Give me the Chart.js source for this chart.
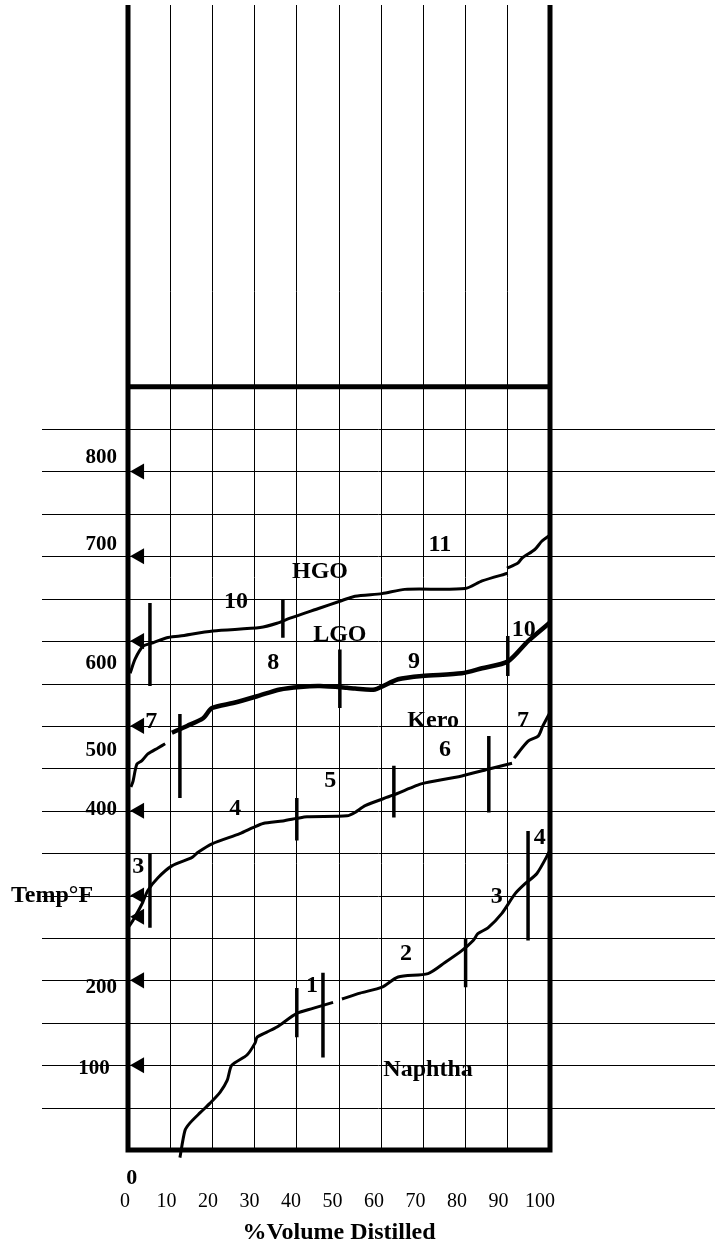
<!DOCTYPE html>
<html lang="en">
<head>
    <meta charset="UTF-8">
    <title>Distillation curves</title>
    <script src="https://cdn.jsdelivr.net/npm/chart.js"></script>
    <style>
        body {
            margin: 0;
            background: #fff;
        }

        #wrap {
            width: 715px;
            height: 1249px;
        }
    </style>
</head>
<body>
    <div id="wrap"><canvas id="chart" width="715" height="1249"></canvas></div>

    <script>
        // Curves: % volume distilled vs temperature (°F)
        const naphthaVolA  = [12.3, 13.5, 14.7, 17.1, 19.4, 21.8, 23.5, 24.6, 28.2, 30.1, 30.6, 32.9, 35.3, 40.0, 43.8, 48.6];
        const naphthaTempA = [-9, 23, 32, 44, 55, 68, 82, 100, 112, 126, 133, 139, 145, 161, 167, 174];
        const naphthaVolB  = [50.7, 55.0, 60.2, 64.0, 71.1, 75.1, 79.1, 81.8, 82.9, 85.3, 88.6, 91.7, 94.1, 96.9, 100];
        const naphthaTempB = [178, 185, 192, 204, 208, 221, 235, 247, 255, 262, 279, 302, 314, 326, 353];

        const keroVolA  = [0, 1.2, 3.3, 4.7, 7.1, 10.4, 15.2, 16.6, 19.9, 26.5, 29.6, 32.0, 36.7, 40.0, 42.4, 51.9, 53.8, 56.2, 62.6, 68.0, 69.7, 79.1, 85.3, 91.0];
        const keroTempA = [262, 271, 290, 306, 321, 335, 345, 351, 361, 373, 380, 385, 388, 391, 393, 394, 398, 406, 418, 429, 432, 441, 449, 456];
        const keroVolB  = [91.5, 94.8, 97.2, 98.3, 100];
        const keroTempB = [462, 482, 488, 500, 516];

        const lgoVolA  = [0.7, 1.2, 2.1, 3.3, 4.7, 7.1, 8.8];
        const lgoTempA = [428, 435, 455, 459, 467, 474, 479];
        const lgoVolB  = [10.4, 14.0, 17.8, 19.9, 24.9, 30.6, 36.0, 40.8, 45.5, 51.9, 53.8, 58.5, 64.0, 69.7, 79.1, 83.9, 90.0, 94.8, 100];
        const lgoTempB = [492, 500, 509, 521, 527, 535, 543, 546, 547, 545, 544, 543, 555, 559, 562, 568, 576, 600, 622];

        const hgoVolA  = [0.5, 1.7, 3.6, 5.9, 9.2, 12.3, 20.1, 31.3, 35.3, 38.4, 45.5, 50.2, 53.8, 60.2, 65.6, 79.9, 83.9, 90.0];
        const hgoTempA = [562, 579, 594, 598, 604, 606, 612, 616, 621, 627, 639, 647, 653, 656, 661, 662, 671, 680];
        const hgoVolB  = [89.8, 92.4, 93.4, 96.4, 98.1, 100];
        const hgoTempB = [686, 692, 698, 708, 718, 725];

        // Cut point bars: volume, low and high temperature
        const cutVol  = [5.2, 36.7, 12.3, 50.2, 90.0, 5.2, 40.0, 63.0, 85.5, 40.0, 46.2, 80.0, 94.8];
        const cutLow  = [547, 604, 415, 521, 559, 262, 365, 392, 398, 133, 109, 192, 247];
        const cutHigh = [645, 649, 514, 590, 606, 349, 415, 453, 488, 191, 209, 250, 376];

        // Temperature markers on the left edge
        const arrowTemps = [800, 700, 600, 500, 400, 300, 275, 200, 100];

        // Horizontal temperature lines, every 50 °F
        const tempGrid = [50, 100, 150, 200, 250, 300, 350, 400, 450, 500, 550, 600, 650, 700, 750, 800, 850];
        const boxTemp = 900;

        // Volume tick labels (printed slightly narrower than the grid)
        const volTicks = [0, 10, 20, 30, 40, 50, 60, 70, 80, 90, 100];

        // Temperature labels (text, volume and temperature of the label centre)
        const tempLabels    = ['800', '700', '600', '500', '400', '200', '100'];
        const tempLabelVol  = [-2.6, -2.6, -2.6, -2.6, -2.6, -2.6, -4.3];
        const tempLabelTemp = [816, 714, 574, 471, 401, 192, 96];

        // Section names and cut numbers written inside the chart
        const sectionNames = ['HGO', 'LGO', 'Kero', 'Naphtha'];
        const sectionVol   = [45.5, 50.2, 72.3, 71.1];
        const sectionTemp  = [682, 608, 506, 95];

        const cutNumbers = ['11', '10', '10', '8', '9', '7', '7', '6', '5', '4', '3', '3', '4', '2', '1'];
        const cutNumVol  = [73.9, 25.6, 93.8, 34.4, 67.8, 5.5, 93.6, 75.1, 47.9, 25.4, 2.4, 87.4, 97.6, 65.9, 43.6];
        const cutNumTemp = [714, 646, 613, 575, 576, 505, 506, 472, 435, 402, 334, 299, 368, 231, 194];

        const SERIF = '"Liberation Serif", "Times New Roman", serif';

        function pts(vols, temps) {
            return vols.map((v, i) => ({ x: v, y: temps[i] }));
        }

        function curve(vols, temps, width) {
            return {
                type: 'line',
                data: pts(vols, temps),
                borderColor: '#000',
                borderWidth: width,
                pointRadius: 0,
                tension: 0.25,
                fill: false,
                clip: false,
                borderCapStyle: 'butt'
            };
        }

        // bars built as pairs of points with a gap in between
        const cutData = [];
        cutVol.forEach((v, i) => {
            cutData.push({ x: v, y: cutLow[i] }, { x: v, y: cutHigh[i] }, { x: v, y: null });
        });

        const sketch = {
            id: 'sketch',
            beforeDatasetsDraw(chart) {
                const { ctx, chartArea: a, scales: { x, y } } = chart;
                ctx.save();

                // temperature lines run past the frame on both sides
                ctx.strokeStyle = '#000';
                ctx.lineWidth = 1;
                tempGrid.forEach(t => {
                    const py = Math.round(y.getPixelForValue(t)) + 0.5;
                    ctx.beginPath();
                    ctx.moveTo(42, py);
                    ctx.lineTo(chart.width, py);
                    ctx.stroke();
                });

                // heavy frame
                const x0 = x.getPixelForValue(0), x1 = x.getPixelForValue(100);
                const y0 = y.getPixelForValue(0), yb = y.getPixelForValue(boxTemp);
                ctx.lineWidth = 5;
                ctx.lineJoin = 'miter';
                ctx.beginPath();
                ctx.moveTo(x0, a.top);
                ctx.lineTo(x0, y0);
                ctx.lineTo(x1, y0);
                ctx.lineTo(x1, a.top);
                ctx.moveTo(x0, yb);
                ctx.lineTo(x1, yb);
                ctx.stroke();

                // labels
                ctx.fillStyle = '#000';
                ctx.textBaseline = 'middle';
                const text = (s, v, t, size, align) => {
                    ctx.font = 'bold ' + size + 'px ' + SERIF;
                    ctx.textAlign = align;
                    ctx.fillText(s, x.getPixelForValue(v), y.getPixelForValue(t));
                };
                tempLabels.forEach((s, i) => text(s, tempLabelVol[i], tempLabelTemp[i], 21, 'right'));
                text('0', 0.9, -33, 22, 'center');
                text('Temp°F', -18, 300, 24, 'center');
                sectionNames.forEach((s, i) => text(s, sectionVol[i], sectionTemp[i], 24, 'center'));
                cutNumbers.forEach((s, i) => text(s, cutNumVol[i], cutNumTemp[i], 24, 'center'));

                ctx.restore();
            }
        };

        new Chart(document.getElementById('chart'), {
            data: {
                datasets: [
                    curve(naphthaVolA, naphthaTempA, 3),
                    curve(naphthaVolB, naphthaTempB, 3),
                    curve(keroVolA, keroTempA, 3),
                    curve(keroVolB, keroTempB, 3),
                    curve(lgoVolA, lgoTempA, 3),
                    curve(lgoVolB, lgoTempB, 4.5),
                    curve(hgoVolA, hgoTempA, 3),
                    curve(hgoVolB, hgoTempB, 3),
                    {
                        type: 'line',
                        data: cutData,
                        borderColor: '#000',
                        borderWidth: 3.5,
                        pointRadius: 0,
                        spanGaps: false,
                        clip: false
                    },
                    {
                        type: 'scatter',
                        data: arrowTemps.map(t => ({ x: 2.7, y: t })),
                        pointStyle: 'triangle',
                        pointRadius: 9.3,
                        pointRotation: -90,
                        backgroundColor: '#000',
                        borderWidth: 0
                    }
                ]
            },
            options: {
                responsive: false,
                animation: false,
                layout: {
                    autoPadding: false,
                    padding: { left: 128, right: 165, top: 5, bottom: 0 }
                },
                plugins: {
                    legend: { display: false },
                    tooltip: { enabled: false }
                },
                scales: {
                    x: {
                        type: 'linear',
                        min: 0,
                        max: 100,
                        grid: { color: '#000', lineWidth: 1, drawTicks: false },
                        border: { display: false },
                        ticks: { stepSize: 10, display: false },
                        afterFit: s => { s.height = 0; }
                    },
                    // label axis: the printed numbers sit a little inside the grid
                    xLabels: {
                        type: 'linear',
                        position: 'bottom',
                        min: 0.72,
                        max: 102.4,
                        grid: { display: false, drawTicks: false },
                        border: { display: false },
                        afterBuildTicks: s => { s.ticks = volTicks.map(v => ({ value: v })); },
                        ticks: {
                            autoSkip: false,
                            maxRotation: 0,
                            padding: 40,
                            color: '#000',
                            font: { family: SERIF, size: 20 }
                        },
                        title: {
                            display: true,
                            text: '%Volume Distilled',
                            color: '#000',
                            font: { family: SERIF, size: 24, weight: 'bold' },
                            padding: { top: 4, bottom: 2 }
                        },
                        afterFit: s => { s.height = 99; }
                    },
                    y: {
                        type: 'linear',
                        display: false,
                        min: 0,
                        max: 1350
                    }
                }
            },
            plugins: [sketch]
        });
    </script>
</body>
</html>
